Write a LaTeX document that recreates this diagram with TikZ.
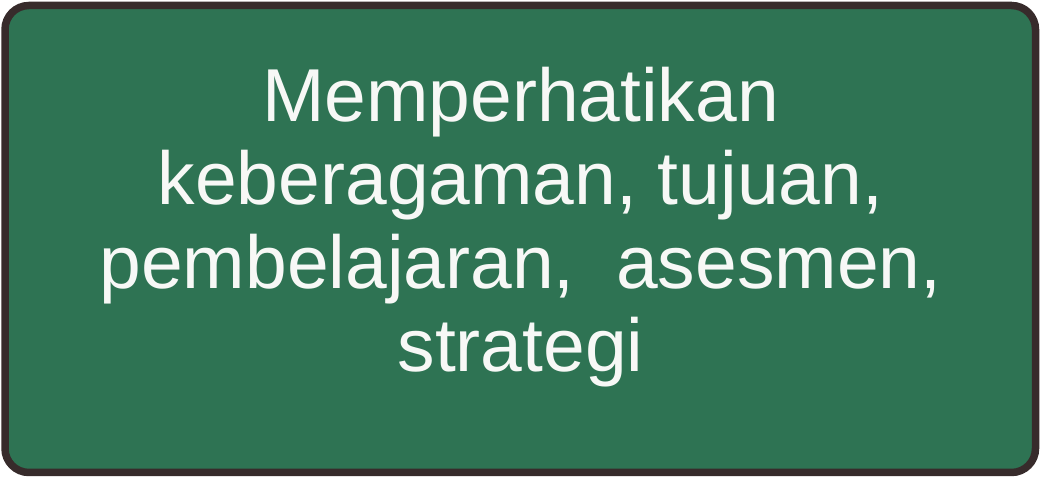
\documentclass[tikz,border=0pt]{standalone}
\usepackage{fontspec}
\setmainfont{Liberation Sans}
\definecolor{boxgreen}{HTML}{2E7353}
\definecolor{boxedge}{HTML}{372B2B}
\definecolor{boxtext}{HTML}{F7F8F6}
\tikzset{
  panel/.style={draw=boxedge, fill=boxgreen, line width=7.5pt, rounded corners=24pt},
  paneltext/.style={text=boxtext, align=center, inner sep=0pt,
    font=\fontsize{75pt}{83.6pt}\selectfont}
}
\begin{document}
\begin{tikzpicture}[x=1pt,y=1pt]
\useasboundingbox (0,0) rectangle (1041,479);
\draw[panel] (5,6.5) rectangle (1035.5,473.5);
\node[paneltext, anchor=base] (label) at (520.5,107)
  {Memperhatikan\\keberagaman, tujuan,\\pembelajaran,\ \ asesmen,\\strategi};
\end{tikzpicture}
\end{document}
